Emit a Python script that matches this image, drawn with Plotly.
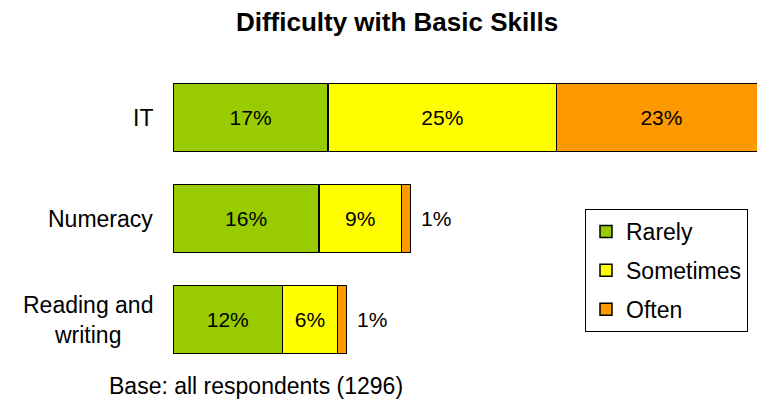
import plotly.graph_objects as go

categories = ["IT", "Numeracy", "Reading and<br>writing"]
series_names = ["Rarely", "Sometimes", "Often"]
rarely = [17, 16, 12]
sometimes = [25, 9, 6]
often = [23, 1, 1]
colors = ["#99CC00", "#FFFF00", "#FF9900"]

FONT = "Liberation Sans, Arial, sans-serif"
W, H = 757, 403
ML, MR, MT, MB = 173, 0, 67, 33
PX_PER_PCT = 9.13
plot_w = W - ML - MR
xmax = plot_w / PX_PER_PCT

fig = go.Figure()
values = [rarely, sometimes, often]
for i, (name, vals, col) in enumerate(zip(series_names, values, colors)):
    texts = [f"{v}%" if v >= 3 else "" for v in vals]
    fig.add_trace(go.Bar(
        y=categories, x=vals, name=name, orientation="h",
        marker=dict(color=col, line=dict(color="black", width=1.5)),
        text=texts, textposition="inside", insidetextanchor="middle",
        textangle=0, constraintext="none",
        textfont=dict(size=21, color="black", family=FONT),
        width=0.67, legendgroup=name,
    ))

annotations = []
# outside labels for small values
totals = [r + s + o for r, s, o in zip(rarely, sometimes, often)]
for cat, o, tot in zip(categories, often, totals):
    if o < 3:
        annotations.append(dict(x=tot, y=cat, xref="x", yref="y", text=f"{o}%",
                                showarrow=False, xanchor="left", xshift=9,
                                font=dict(size=21, color="black", family=FONT)))
# category labels
for cat in categories:
    annotations.append(dict(x=0, y=cat, xref="paper", yref="y", text=cat,
                            showarrow=False, xanchor="right", align="center",
                            xshift=-18,
                            font=dict(size=23, color="black", family=FONT)))
# base note
plot_h = H - MT - MB
annotations.append(dict(x=(256 - ML) / plot_w, y=-(386 - (H - MB)) / plot_h,
                        xref="paper", yref="paper", text="Base: all respondents (1296)",
                        showarrow=False, xanchor="center", yanchor="middle",
                        font=dict(size=23, color="black", family=FONT)))

fig.update_layout(
    width=W, height=H, barmode="stack",
    margin=dict(l=ML, r=MR, t=MT, b=MB, autoexpand=False),
    paper_bgcolor="white", plot_bgcolor="white",
    font=dict(family=FONT, color="black"),
    title=dict(text="<b>Difficulty with Basic Skills</b>", x=397 / W, xanchor="center",
               y=1 - 22 / H, yanchor="middle", yref="container",
               font=dict(size=26, color="black", family=FONT)),
    xaxis=dict(range=[0, xmax], visible=False, showgrid=False, zeroline=False),
    yaxis=dict(range=[2.5, -0.5], showticklabels=False, showgrid=False,
               zeroline=False, ticks="", showline=False),
    legend=dict(xref="container", yref="container", x=585 / W, y=1 - 209 / H,
                xanchor="left", yanchor="top", bordercolor="black", borderwidth=1,
                bgcolor="white", traceorder="grouped", tracegroupgap=6,
                font=dict(size=23, color="black", family=FONT)),
    annotations=annotations,
    showlegend=True,
)

fig.write_html("out.html", config={"displayModeBar": False},
               post_script="document.body.style.margin='0';document.body.style.overflow='hidden';")
